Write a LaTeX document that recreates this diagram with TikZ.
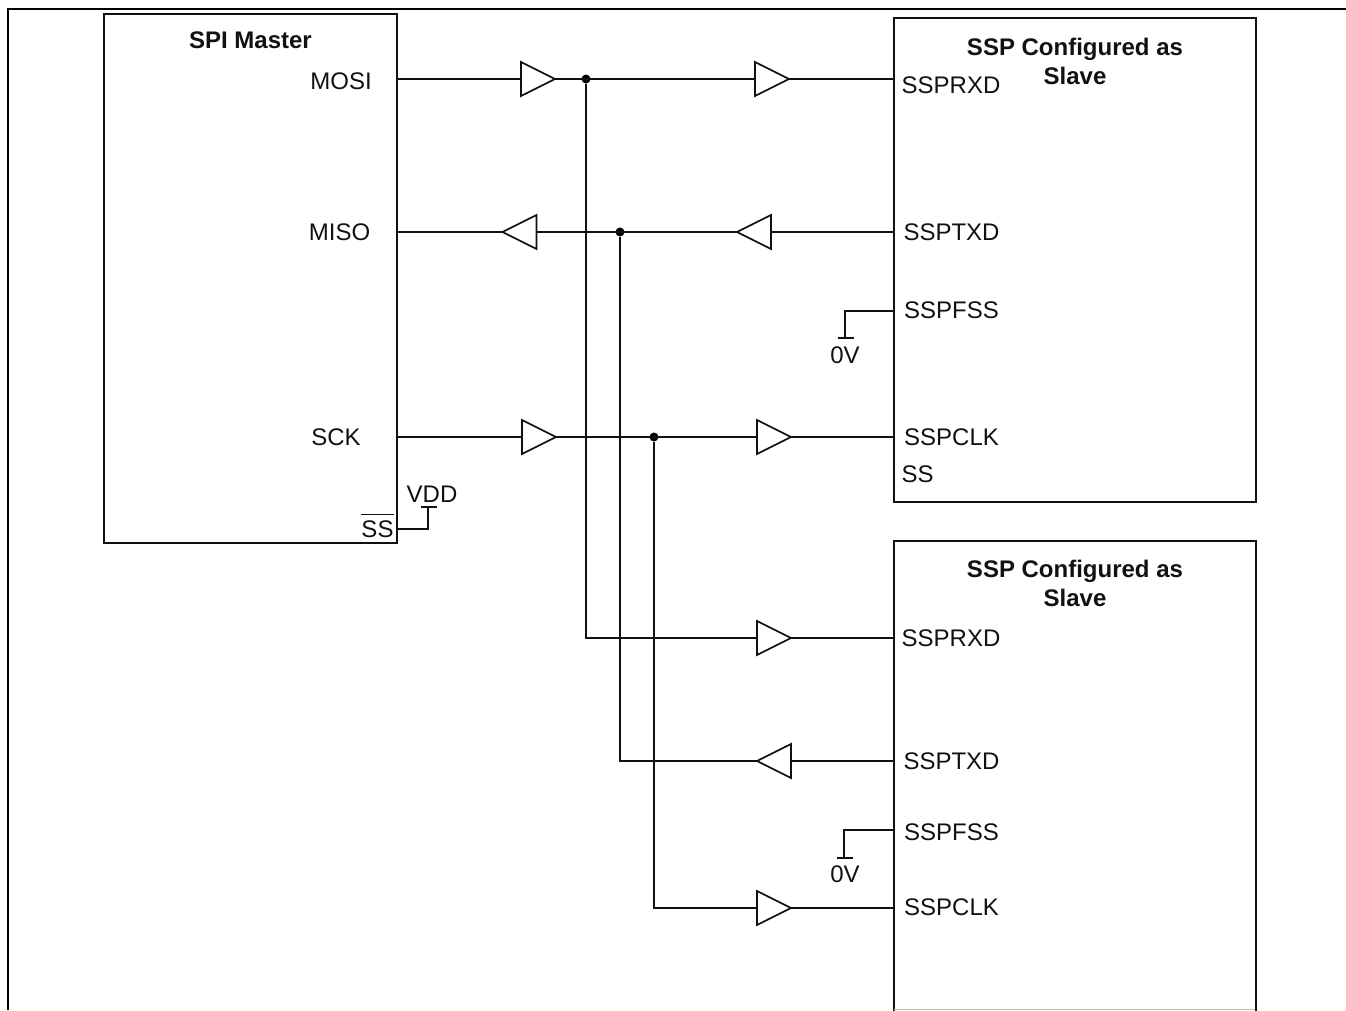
\documentclass[tikz,border=0pt]{standalone}
\usepackage{fontspec}
\setmainfont{Liberation Sans}
\usepackage{xcolor}
\usepackage{tikz}
\usetikzlibrary{positioning,shapes.geometric}
\definecolor{ink}{HTML}{111111}
\tikzset{
  wire/.style={draw=ink,line width=1.7pt},
  block/.style={draw=ink,line width=1.7pt},
  buf/.style={shape=isosceles triangle,isosceles triangle stretches,draw=ink,line width=1.7pt,fill=white,
    minimum width=34pt,minimum height=34pt,inner sep=0pt,outer sep=0pt,anchor=apex},
  bufl/.style={buf,shape border rotate=180},
  dot/.style={circle,fill=black,inner sep=0pt,outer sep=0pt,minimum size=9pt},
  sig/.style={font=\fontsize{24}{26}\selectfont,text=ink,inner sep=0pt},
  hdr/.style={font=\fontsize{24}{29}\selectfont\bfseries,text=ink,align=center,inner sep=0pt},
}
\begin{document}
\begin{tikzpicture}[x=1pt,y=-1pt]
  \useasboundingbox (0,0) rectangle (1346,1010);
  % frame
  \draw[black,line width=2.2pt] (8,1010) -- (8,9) -- (1346,9);
  % blocks
  \draw[block] (104,14) rectangle (397,543);
  \draw[block] (894,18) rectangle (1256,502);
  \draw[block] (894,1012) -- (894,541) -- (1256,541) -- (1256,1012);
  \draw[lightgray,line width=1pt] (894,1009.5) -- (1255,1009.5);
  \node[hdr] (hm) at (250.5,40) {SPI Master};
  \node[hdr] (hs1) at (1075,61.5) {SSP Configured as\\Slave};
  \node[hdr] (hs2) at (1075,583.5) {SSP Configured as\\Slave};
  % master pins
  \node[sig] (mosi) at (341,81) {MOSI};
  \node[sig] (miso) at (339.5,232) {MISO};
  \node[sig] (sck) at (336,437) {SCK};
  \node[sig,anchor=base] (ss) at (377.5,537) {$\overline{\rule{0pt}{21pt}\mbox{SS}}$};
  \node[sig] (vdd) at (432,494) {VDD};
  \coordinate (pmosi) at (397,79);
  \coordinate (pmiso) at (397,232);
  \coordinate (psck) at (397,437);
  \coordinate (pss) at (397,529);
  % slave pins
  \foreach \nm/\txt/\xx/\yy in {rxa/SSPRXD/951/85,txa/SSPTXD/951.5/232,fsa/SSPFSS/951.5/310,cka/SSPCLK/951.5/437,
      rxb/SSPRXD/951/638,txb/SSPTXD/951.5/761,fsb/SSPFSS/951.5/832,ckb/SSPCLK/951.5/907}
    \node[sig] (\nm) at (\xx,\yy) {\txt};
  \node[sig] (ssa) at (917.5,474) {SS};
  \coordinate (prxa) at (894,79);
  \coordinate (ptxa) at (894,232);
  \coordinate (pfsa) at (894,311);
  \coordinate (pcka) at (894,437);
  \coordinate (prxb) at (894,638);
  \coordinate (ptxb) at (894,761);
  \coordinate (pfsb) at (894,830);
  \coordinate (pckb) at (894,908);
  % buffers
  \node[buf] (b1) at (555,79) {};
  \node[buf] (b2) at (789,79) {};
  \node[bufl] (b3) at (502.5,232) {};
  \node[bufl] (b4) at (737,232) {};
  \node[buf] (b5) at (556,437) {};
  \node[buf] (b6) at (791,437) {};
  \node[buf] (b7) at (791,638) {};
  \node[bufl] (b8) at (757,761) {};
  \node[buf] (b9) at (791,908) {};
  % junctions
  \node[dot] (j1) at (586,79) {};
  \node[dot] (j2) at (620,232) {};
  \node[dot] (j3) at (654,437) {};
  % wires
  \draw[wire] (pmosi) -- (b1.lower side);
  \draw[wire] (b1.apex) -- (b2.lower side);
  \draw[wire] (b2.apex) -- (prxa);
  \draw[wire] (pmiso) -- (b3.apex);
  \draw[wire] (b3.lower side) -- (b4.apex);
  \draw[wire] (b4.lower side) -- (ptxa);
  \draw[wire] (psck) -- (b5.lower side);
  \draw[wire] (b5.apex) -- (b6.lower side);
  \draw[wire] (b6.apex) -- (pcka);
  \draw[wire] (j1) |- (b7.lower side);
  \draw[wire] (b7.apex) -- (prxb);
  \draw[wire] (j2) |- (b8.apex);
  \draw[wire] (b8.lower side) -- (ptxb);
  \draw[wire] (j3) |- (b9.lower side);
  \draw[wire] (b9.apex) -- (pckb);
  % ties
  \coordinate (gnda) at (845,338);
  \coordinate (gndb) at (844,858);
  \coordinate (vtop) at (428,507);
  \draw[wire] (pfsa) -| (gnda);
  \draw[wire] (gnda) ++(-7,0) -- ++(16,0);
  \node[sig] (va) at (845,355) {0V};
  \draw[wire] (pfsb) -| (gndb);
  \draw[wire] (gndb) ++(-7,0) -- ++(16,0);
  \node[sig] (vb) at (845,874) {0V};
  \draw[wire] (pss) -| (vtop);
  \draw[wire] (vtop) ++(-7,0) -- ++(16,0);
\end{tikzpicture}
\end{document}
